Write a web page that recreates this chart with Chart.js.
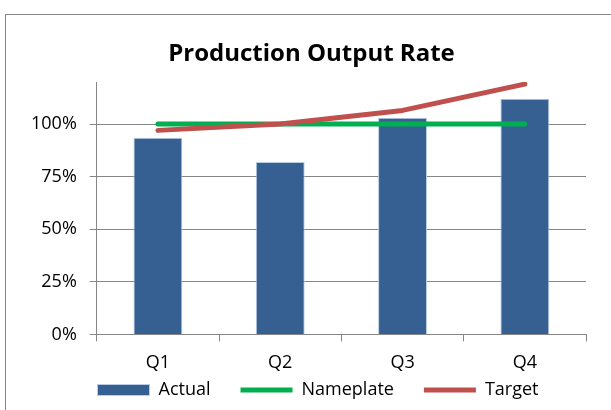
<!DOCTYPE html>
<html>
<head>
<meta charset="utf-8">
<title>Production Output Rate</title>
<script src="https://cdn.jsdelivr.net/npm/chart.js@4.4.1/dist/chart.umd.min.js"></script>
<style>
  html, body { margin: 0; padding: 0; background: #fff; }
  canvas { display: block; }
</style>
</head>
<body>
<canvas id="outputChart" width="611" height="410"></canvas>
<script>
const quarters = ["Q1", "Q2", "Q3", "Q4"];
const actual = [0.935, 0.82, 1.03, 1.12];
const nameplate = [1.0, 1.0, 1.0, 1.0];
const target = [0.97, 1.0, 1.065, 1.19];
const yTicks = [0, 0.25, 0.5, 0.75, 1.0];

const gray = "#868686";
const font = { family: "Open Sans", size: 18 };

// white card with a thin gray frame behind everything
const frame = {
  id: "frame",
  beforeDraw(chart) {
    const ctx = chart.ctx;
    ctx.save();
    ctx.fillStyle = "#fff";
    ctx.fillRect(0, 0, chart.width, chart.height);
    ctx.strokeStyle = gray;
    ctx.lineWidth = 1;
    ctx.strokeRect(5.5, 14.5, chart.width + 20, chart.height + 20);
    ctx.restore();
  }
};

// legend keeps wide gaps between items but sits closer to the axis labels;
// title and legend are centred on the whole card, not on the plot column
const nudgeBoxes = {
  id: "nudgeBoxes",
  afterLayout(chart) {
    const lg = chart.legend;
    lg.top -= 34;
    lg.bottom -= 34;
    lg.left += 16;
    lg.right += 16;
    const tb = chart.titleBlock;
    tb.left += 9.5;
    tb.right += 9.5;
  }
};

new Chart(document.getElementById("outputChart"), {
  data: {
    labels: quarters,
    datasets: [
      {
        type: "bar",
        label: "Actual",
        data: actual,
        backgroundColor: "#376092",
        borderColor: "#B9CDE5",
        borderWidth: 1,
        barPercentage: 0.4,
        categoryPercentage: 1.0,
        pointStyle: "rect",
        order: 3
      },
      {
        type: "line",
        label: "Nameplate",
        data: nameplate,
        borderColor: "#00B050",
        backgroundColor: "#00B050",
        borderWidth: 5,
        borderCapStyle: "round",
        borderJoinStyle: "round",
        pointRadius: 0,
        pointStyle: "line",
        order: 2
      },
      {
        type: "line",
        label: "Target",
        data: target,
        borderColor: "#C0504D",
        backgroundColor: "#C0504D",
        borderWidth: 5,
        borderCapStyle: "round",
        borderJoinStyle: "round",
        pointRadius: 0,
        pointStyle: "line",
        order: 1
      }
    ]
  },
  options: {
    responsive: false,
    devicePixelRatio: 1,
    animation: false,
    layout: { padding: { left: 18, right: 25, top: 30, bottom: -33 } },
    plugins: {
      title: {
        display: true,
        text: "Production Output Rate",
        color: "#000",
        font: { family: "Open Sans", size: 24, weight: "bold" },
        padding: { top: 10, bottom: 13.2 }
      },
      legend: {
        position: "bottom",
        labels: {
          usePointStyle: true,
          pointStyleWidth: 52,
          boxHeight: 11,
          color: "#000",
          font: font,
          padding: 30,
          sort: (a, b) => a.datasetIndex - b.datasetIndex
        }
      },
      tooltip: { enabled: false }
    },
    scales: {
      x: {
        offset: true,
        grid: { offset: true, drawOnChartArea: false, tickLength: 7, color: gray },
        border: { color: gray },
        ticks: { color: "#000", font: font, padding: 11 }
      },
      y: {
        min: 0,
        max: 1.2,
        afterBuildTicks: axis => {
          axis.ticks = yTicks.map(v => ({ value: v }));
        },
        grid: { color: gray, tickLength: 7 },
        border: { color: gray },
        ticks: {
          color: "#000",
          font: font,
          padding: 13,
          callback: v => Math.round(v * 100) + "%"
        }
      }
    }
  },
  plugins: [frame, nudgeBoxes]
});
</script>
</body>
</html>
